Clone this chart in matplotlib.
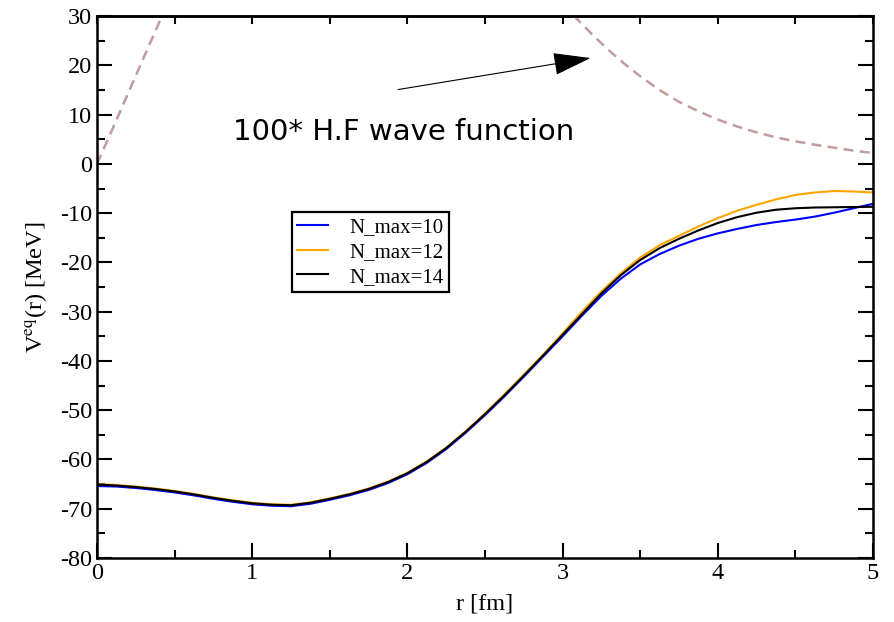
import matplotlib
matplotlib.use('Agg')
import matplotlib.pyplot as plt
from matplotlib.ticker import MultipleLocator

plt.rcParams['font.family'] = ['Liberation Serif', 'DejaVu Serif']
plt.rcParams['mathtext.fontset'] = 'stix'
plt.rcParams['axes.unicode_minus'] = False

# r grid (fm)
r = [0, 0.125, 0.25, 0.375, 0.5, 0.625, 0.75, 0.875, 1.0, 1.125, 1.25, 1.375,
     1.5, 1.625, 1.75, 1.875, 2.0, 2.125, 2.25, 2.375, 2.5, 2.625, 2.75, 2.875,
     3.0, 3.125, 3.25, 3.375, 3.5, 3.625, 3.75, 3.875, 4.0, 4.125, 4.25, 4.375,
     4.5, 4.625, 4.75, 4.875, 5.0]

# V_eq(r) [MeV] for each N_max
v_n10 = [-65.4, -65.5, -65.8, -66.2, -66.7, -67.3, -68.0, -68.6, -69.1, -69.4,
         -69.5, -69.0, -68.2, -67.3, -66.2, -64.8, -63.0, -60.7, -57.9, -54.6,
         -51.0, -47.2, -43.2, -39.1, -35.0, -30.8, -26.8, -23.3, -20.4, -18.3,
         -16.6, -15.2, -14.1, -13.2, -12.4, -11.8, -11.3, -10.7, -9.9, -9.0, -8.1]
v_n12 = [-65.0, -65.2, -65.5, -65.9, -66.4, -67.0, -67.7, -68.3, -68.8, -69.1,
         -69.2, -68.7, -67.9, -67.0, -65.9, -64.5, -62.7, -60.4, -57.6, -54.3,
         -50.7, -46.8, -42.8, -38.7, -34.4, -30.0, -25.9, -22.2, -19.0, -16.5,
         -14.6, -12.7, -11.0, -9.5, -8.3, -7.2, -6.3, -5.8, -5.5, -5.6, -5.8]
v_n14 = [-65.1, -65.3, -65.6, -66.0, -66.5, -67.1, -67.8, -68.4, -68.9, -69.2,
         -69.3, -68.8, -68.0, -67.1, -66.0, -64.6, -62.8, -60.5, -57.7, -54.4,
         -50.8, -47.0, -43.0, -38.9, -34.7, -30.5, -26.3, -22.6, -19.5, -17.1,
         -15.2, -13.5, -12.0, -10.8, -9.9, -9.3, -9.0, -8.85, -8.8, -8.75, -8.7]

# 100 * Hartree-Fock wave function (dashed), two visible pieces
r_wf1 = [0, 0.1, 0.2, 0.3, 0.4, 0.45]
wf1 = [0, 7.1, 14.3, 21.5, 28.7, 32.4]
r_wf2 = [3.0, 3.1, 3.2, 3.3, 3.4, 3.5, 3.625, 3.75, 3.875, 4.0, 4.125, 4.25,
         4.375, 4.5, 4.625, 4.75, 4.875, 5.0]
wf2 = [32.5, 29.2, 26.0, 23.0, 20.3, 17.8, 15.0, 12.6, 10.7, 9.0, 7.6, 6.4,
       5.4, 4.6, 3.9, 3.3, 2.7, 2.2]

fig = plt.figure(figsize=(8.94, 6.22), dpi=100)
ax = fig.add_axes([0.1085, 0.103, 0.868, 0.871])

wf_col = '#c29c9c'
ax.plot(r_wf1, wf1, color=wf_col, lw=1.8, dashes=(4, 2.5))
ax.plot(r_wf2, wf2, color=wf_col, lw=1.8, dashes=(4, 2.5))

ax.plot(r, v_n10, color='#0000ff', lw=1.5, label='N_max=10')
ax.plot(r, v_n12, color='#ffa500', lw=1.5, label='N_max=12')
ax.plot(r, v_n14, color='black', lw=1.5, label='N_max=14')

ax.set_xlim(0, 5)
ax.set_ylim(-80, 30)
ax.xaxis.set_major_locator(MultipleLocator(1))
ax.xaxis.set_minor_locator(MultipleLocator(0.5))
ax.yaxis.set_major_locator(MultipleLocator(10))
ax.yaxis.set_minor_locator(MultipleLocator(5))
ax.tick_params(which='both', direction='in', right=True, top=False, width=1.5,
               labelsize=17.5)
ax.tick_params(which='major', length=10.5)
ax.tick_params(which='minor', length=5.5)
for s in ax.spines.values():
    s.set_linewidth(1.8)

# top ticks all short
top = ax.secondary_xaxis('top')
top.xaxis.set_major_locator(MultipleLocator(1))
top.xaxis.set_minor_locator(MultipleLocator(0.5))
top.tick_params(which='both', direction='in', length=5.5, width=1.5,
                labeltop=False)
top.spines['top'].set_linewidth(1.8)

ax.set_xlabel('r [fm]', fontsize=17.5, labelpad=7)
ax.set_ylabel('V$^{\\rm eq}$(r) [MeV]', fontsize=17.5, labelpad=8)

leg = ax.legend(loc='upper left', bbox_to_anchor=(0.251, 0.638),
                borderaxespad=0, fontsize=15, fancybox=False,
                edgecolor='black', handlelength=1.5, labelspacing=0.25,
                borderpad=0.25, handletextpad=1.0, framealpha=1)
leg.get_frame().set_linewidth(1.6)

ax.annotate('', xy=(3.18, 21.5), xytext=(1.94, 15.1),
            arrowprops=dict(arrowstyle='-|>,head_length=1.2,head_width=0.36',
                            mutation_scale=20, lw=0.8, color='black',
                            shrinkA=0, shrinkB=0))
ax.text(0.876, 6.5, '100* H.F wave function', fontsize=21,
        family='DejaVu Sans', va='center', ha='left')

fig.savefig('out.png', dpi=100)
